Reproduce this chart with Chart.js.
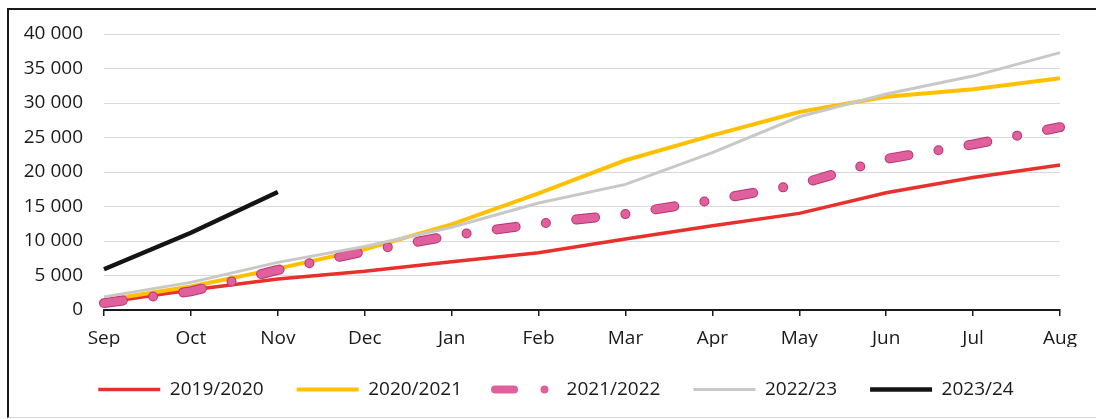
<!DOCTYPE html>
<html lang="en">
<head>
    <meta charset="UTF-8">
    <title>Cumulative monthly totals</title>
    <script src="https://cdn.jsdelivr.net/npm/chart.js"></script>
    <style>
        body { margin: 0; background: #fff; }
        #wrap { position: relative; width: 1096px; height: 419px; overflow: hidden; }
        #frame {
            position: absolute; left: 7px; top: 8px; width: 1100px; height: 407px;
            border-left: 2px solid #1a1a1a; border-top: 2px solid #1a1a1a;
            border-bottom: 1px solid #d8d8d8; pointer-events: none;
        }
        canvas { position: absolute; left: 0; top: 0; }
    </style>
</head>
<body>
<div id="wrap">
    <canvas id="seasonChart" width="1096" height="419"></canvas>
    <div id="frame"></div>
</div>

<script>
    const months = ['Sep', 'Oct', 'Nov', 'Dec', 'Jan', 'Feb', 'Mar', 'Apr', 'May', 'Jun', 'Jul', 'Aug'];
    const yTicks = [0, 5000, 10000, 15000, 20000, 25000, 30000, 35000, 40000];

    const season2019 = [1100, 2900, 4500, 5600, 7000, 8300, 10300, 12200, 14000, 17000, 19200, 21000];
    const season2020 = [1400, 3400, 6000, 8800, 12400, 16900, 21700, 25300, 28700, 30900, 32000, 33600];
    const season2021 = [1000, 2700, 5800, 8500, 10800, 12500, 13900, 15900, 18200, 21900, 24000, 26500];
    const season2022 = [1900, 4000, 6900, 9200, 12000, 15500, 18200, 22800, 28000, 31300, 33900, 37300];
    const season2023 = [5900, 11200, 17100];

    const font = { family: "'Open Sans', sans-serif", size: 19 };
    const textColor = '#1a1a1a';

    // dash + dot pattern for 2021/2022
    const dashDot = [19, 30.5, 0, 30.5];

    function spaced(v) {
        return String(v).replace(/\B(?=(\d{3})+(?!\d))/g, ' ');
    }

    function line(label, data, color, width, order, extra) {
        return Object.assign({
            label: label,
            data: data,
            borderColor: color,
            backgroundColor: color,
            borderWidth: width,
            pointRadius: 0,
            pointHoverRadius: 0,
            pointStyle: 'line',
            tension: 0,
            fill: false,
            order: order
        }, extra || {});
    }

    // fixed legend strip height, and the row nudged right to sit under the whole frame
    const legendBox = {
        id: 'legendBox',
        beforeLayout(chart) {
            const lg = chart.legend;
            if (lg && !lg._patched) {
                const fit = lg.fit;
                lg.fit = function () { fit.call(this); this.height = 72; };
                lg._patched = true;
            }
        },
        afterLayout(chart) {
            chart.legend.left += 26;
            chart.legend.right += 26;
        }
    };

    // legend samples take the dash and cap of their dataset
    function legendLabels(chart) {
        const items = Chart.defaults.plugins.legend.labels.generateLabels(chart);
        return items.map(item => {
            const ds = chart.data.datasets[item.datasetIndex];
            item.lineDash = ds.borderDash || [];
            item.lineCap = ds.borderCapStyle || 'butt';
            return item;
        });
    }

    const ctx = document.getElementById('seasonChart').getContext('2d');
    new Chart(ctx, {
        type: 'line',
        data: {
            labels: months,
            datasets: [
                line('2019/2020', season2019, '#e8302c', 3.5, 6),
                line('2020/2021', season2020, '#ffc000', 4, 5),
                line('2021/2022', season2021, '#b8336f', 10, 4, { borderDash: dashDot, borderCapStyle: 'round', outline: true }),
                line('2021/2022', season2021, '#e05f9d', 8, 3, { borderDash: dashDot, borderCapStyle: 'round' }),
                line('2022/23', season2022, '#c8c8c8', 3, 2),
                line('2023/24', season2023, '#141414', 4.5, 1)
            ]
        },
        options: {
            responsive: false,
            animation: false,
            events: [],
            layout: { padding: { top: 34, right: 36, bottom: 0, left: 0 } },
            scales: {
                x: {
                    offset: false,
                    afterFit(scale) { scale.height = 37; },
                    grid: { drawOnChartArea: false, drawTicks: true, tickLength: 6, color: '#1a1a1a', lineWidth: 1.5 },
                    border: { display: true, color: '#1a1a1a', width: 2 },
                    ticks: { color: textColor, font: font, padding: 11, maxRotation: 0, autoSkip: false }
                },
                y: {
                    min: 0,
                    max: 40000,
                    afterFit(scale) { scale.width = 104; },
                    afterBuildTicks(scale) { scale.ticks = yTicks.map(v => ({ value: v })); },
                    grid: { drawTicks: false, color: '#dadada', lineWidth: 1 },
                    border: { display: false },
                    ticks: { color: textColor, font: font, padding: 21, callback: v => spaced(v) }
                }
            },
            plugins: {
                tooltip: { enabled: false },
                legend: {
                    position: 'bottom',
                    labels: {
                        usePointStyle: true,
                        pointStyleWidth: 62,
                        padding: 33,
                        color: textColor,
                        font: font,
                        generateLabels: legendLabels,
                        sort: (a, b) => a.datasetIndex - b.datasetIndex,
                        filter: (item, data) => !data.datasets[item.datasetIndex].outline
                    }
                }
            }
        },
        plugins: [legendBox]
    });
</script>
</body>
</html>
